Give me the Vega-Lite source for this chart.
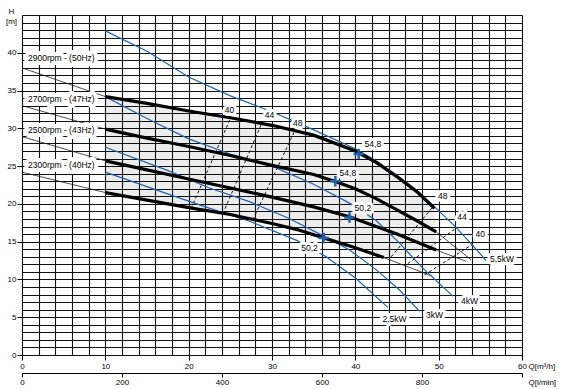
{
  "$schema": "https://vega.github.io/schema/vega-lite/v6.json",
  "width": 500,
  "height": 340,
  "autosize": {"type": "none"},
  "padding": {"left": 22, "top": 15, "right": 45, "bottom": 34},
  "background": "white",
  "config": {"view": {"stroke": null}, "font": "Liberation Sans"},
  "datasets": {
    "shade": [
      {"Q": 10, "H": 34.2, "bot": 21.5},
      {"Q": 15, "H": 33.3, "bot": 20.5},
      {"Q": 20, "H": 32.3, "bot": 19.5},
      {"Q": 25, "H": 31.4, "bot": 18.6},
      {"Q": 30, "H": 30.4, "bot": 17.4},
      {"Q": 35, "H": 29.1, "bot": 15.9},
      {"Q": 40, "H": 27.0, "bot": 14.2},
      {"Q": 43.4, "H": 24.9, "bot": 12.9},
      {"Q": 45, "H": 23.6, "bot": 13.2},
      {"Q": 47.5, "H": 21.5, "bot": 13.6},
      {"Q": 49.5, "H": 19.4, "bot": 13.9},
      {"Q": 49.7, "H": 16.3, "bot": 13.9}
    ],
    "thick": [
      {"id": "A", "Q": 10, "H": 34.2}, {"id": "A", "Q": 15, "H": 33.3}, {"id": "A", "Q": 20, "H": 32.3},
      {"id": "A", "Q": 25, "H": 31.4}, {"id": "A", "Q": 30, "H": 30.4}, {"id": "A", "Q": 35, "H": 29.1},
      {"id": "A", "Q": 40, "H": 27.0}, {"id": "A", "Q": 42.5, "H": 25.5}, {"id": "A", "Q": 45, "H": 23.6},
      {"id": "A", "Q": 47.5, "H": 21.5}, {"id": "A", "Q": 49.5, "H": 19.4},
      {"id": "B", "Q": 10, "H": 29.9}, {"id": "B", "Q": 15, "H": 28.7}, {"id": "B", "Q": 20, "H": 27.6},
      {"id": "B", "Q": 25, "H": 26.4}, {"id": "B", "Q": 30, "H": 25.1}, {"id": "B", "Q": 35, "H": 23.9},
      {"id": "B", "Q": 37.5, "H": 23.0}, {"id": "B", "Q": 40, "H": 22.0}, {"id": "B", "Q": 42.5, "H": 20.7},
      {"id": "B", "Q": 45, "H": 19.2}, {"id": "B", "Q": 47.5, "H": 17.7}, {"id": "B", "Q": 49.7, "H": 16.3},
      {"id": "C", "Q": 10, "H": 25.7}, {"id": "C", "Q": 15, "H": 24.5}, {"id": "C", "Q": 20, "H": 23.3},
      {"id": "C", "Q": 25, "H": 22.1}, {"id": "C", "Q": 30, "H": 20.9}, {"id": "C", "Q": 35, "H": 19.6},
      {"id": "C", "Q": 39.3, "H": 18.3}, {"id": "C", "Q": 42.5, "H": 17.0}, {"id": "C", "Q": 45, "H": 16.0},
      {"id": "C", "Q": 47.5, "H": 14.9}, {"id": "C", "Q": 49.7, "H": 13.9},
      {"id": "D", "Q": 10, "H": 21.5}, {"id": "D", "Q": 15, "H": 20.5}, {"id": "D", "Q": 20, "H": 19.5},
      {"id": "D", "Q": 25, "H": 18.6}, {"id": "D", "Q": 30, "H": 17.4}, {"id": "D", "Q": 33, "H": 16.6},
      {"id": "D", "Q": 36.2, "H": 15.5}, {"id": "D", "Q": 40, "H": 14.2}, {"id": "D", "Q": 43.4, "H": 12.9}
    ],
    "thin": [
      {"id": "A0", "Q": 0, "H": 38.0}, {"id": "A0", "Q": 10, "H": 34.2},
      {"id": "B0", "Q": 0, "H": 33.0}, {"id": "B0", "Q": 10, "H": 29.9},
      {"id": "C0", "Q": 0, "H": 28.9}, {"id": "C0", "Q": 10, "H": 25.7},
      {"id": "D0", "Q": 0, "H": 24.2}, {"id": "D0", "Q": 10, "H": 21.5},
      {"id": "B1", "Q": 49.7, "H": 16.3}, {"id": "B1", "Q": 53.9, "H": 12.6},
      {"id": "C1", "Q": 49.7, "H": 13.9}, {"id": "C1", "Q": 53.3, "H": 12.4},
      {"id": "D1", "Q": 43.4, "H": 12.9}, {"id": "D1", "Q": 49.3, "H": 10.4}
    ],
    "blue": [
      {"id": "P55", "Q": 10, "H": 42.9}, {"id": "P55", "Q": 15, "H": 40.2}, {"id": "P55", "Q": 20, "H": 36.8},
      {"id": "P55", "Q": 25, "H": 34.3}, {"id": "P55", "Q": 30, "H": 32.2}, {"id": "P55", "Q": 35, "H": 29.8},
      {"id": "P55", "Q": 40, "H": 27.3}, {"id": "P55", "Q": 42.5, "H": 25.7}, {"id": "P55", "Q": 45, "H": 23.8},
      {"id": "P55", "Q": 47.5, "H": 21.7}, {"id": "P55", "Q": 49.5, "H": 19.6}, {"id": "P55", "Q": 52, "H": 17.0},
      {"id": "P55", "Q": 54, "H": 14.6}, {"id": "P55", "Q": 55.7, "H": 12.5},
      {"id": "P4", "Q": 10, "H": 34.2}, {"id": "P4", "Q": 15, "H": 31.3}, {"id": "P4", "Q": 20, "H": 28.6},
      {"id": "P4", "Q": 25, "H": 26.6}, {"id": "P4", "Q": 30, "H": 25.0}, {"id": "P4", "Q": 35, "H": 22.6},
      {"id": "P4", "Q": 39.3, "H": 20.1}, {"id": "P4", "Q": 42.5, "H": 17.8}, {"id": "P4", "Q": 45.3, "H": 14.8},
      {"id": "P4", "Q": 48, "H": 11.6}, {"id": "P4", "Q": 51.7, "H": 7.8},
      {"id": "P3", "Q": 10, "H": 27.5}, {"id": "P3", "Q": 17.3, "H": 24.5}, {"id": "P3", "Q": 22.5, "H": 22.1},
      {"id": "P3", "Q": 27.3, "H": 20.3}, {"id": "P3", "Q": 32, "H": 18.1}, {"id": "P3", "Q": 36.1, "H": 15.8},
      {"id": "P3", "Q": 39.3, "H": 13.9}, {"id": "P3", "Q": 42.5, "H": 11.3}, {"id": "P3", "Q": 45.3, "H": 8.6},
      {"id": "P3", "Q": 47.7, "H": 5.8},
      {"id": "P25", "Q": 10, "H": 24.2}, {"id": "P25", "Q": 17.3, "H": 21.4}, {"id": "P25", "Q": 22, "H": 19.6},
      {"id": "P25", "Q": 27.3, "H": 17.7}, {"id": "P25", "Q": 32.9, "H": 15.2}, {"id": "P25", "Q": 36.5, "H": 13.0},
      {"id": "P25", "Q": 40, "H": 10.2}, {"id": "P25", "Q": 43.9, "H": 6.3}
    ],
    "dash": [
      {"id": "L40", "Q": 25.0, "H": 31.3}, {"id": "L40", "Q": 20.3, "H": 19.4},
      {"id": "L44", "Q": 28.7, "H": 30.5}, {"id": "L44", "Q": 24.1, "H": 18.7},
      {"id": "L48", "Q": 32.7, "H": 29.6}, {"id": "L48", "Q": 27.7, "H": 17.9},
      {"id": "R48", "Q": 49.3, "H": 19.6}, {"id": "R48", "Q": 44.3, "H": 13.0},
      {"id": "R44", "Q": 52.1, "H": 16.8}, {"id": "R44", "Q": 46.3, "H": 12.1},
      {"id": "R40", "Q": 54.0, "H": 14.6}, {"id": "R40", "Q": 48.3, "H": 10.6}
    ],
    "bep": [
      {"Q": 40.4, "H": 26.6}, {"Q": 37.6, "H": 23.0}, {"Q": 39.3, "H": 18.2}, {"Q": 36.2, "H": 15.5}
    ],
    "labels": [
      {"Q": 24.9, "H": 32.4, "t": "40"}, {"Q": 29.7, "H": 31.7, "t": "44"}, {"Q": 33.1, "H": 30.7, "t": "48"},
      {"Q": 50.5, "H": 21.0, "t": "48"}, {"Q": 52.8, "H": 18.3, "t": "44"}, {"Q": 55.0, "H": 16.0, "t": "40"},
      {"Q": 42.1, "H": 27.9, "t": "54,8"}, {"Q": 39.1, "H": 24.1, "t": "54,8"},
      {"Q": 40.9, "H": 19.5, "t": "50,2"}, {"Q": 34.5, "H": 14.1, "t": "50,2"},
      {"Q": 57.6, "H": 12.7, "t": "5,5kW"}, {"Q": 53.7, "H": 7.1, "t": "4kW"},
      {"Q": 49.5, "H": 5.3, "t": "3kW"}, {"Q": 44.7, "H": 4.8, "t": "2,5kW"}
    ],
    "speeds": [
      {"Q": 0.72, "H": 39.3, "t": "2900rpm - (50Hz)"},
      {"Q": 0.72, "H": 33.9, "t": "2700rpm - (47Hz)"},
      {"Q": 0.72, "H": 29.8, "t": "2500rpm - (43Hz)"},
      {"Q": 0.72, "H": 25.1, "t": "2300rpm - (40Hz)"}
    ]
  },
  "resolve": {"scale": {"x": "independent"}, "axis": {"x": "independent"}},
  "layer": [
    {
      "encoding": {
        "x": {
          "field": "Q", "type": "quantitative",
          "scale": {"domain": [0, 60], "nice": false, "zero": false},
          "axis": {
            "values": [0,2,4,6,8,10,12,14,16,18,20,22,24,26,28,30,32,34,36,38,40,42,44,46,48,50,52,54,56,58,60],
            "grid": true, "gridColor": "#111", "gridWidth": 1.1, "gridOpacity": 1,
            "domain": false,
            "tickSize": 5, "tickColor": "#000",
            "tickOpacity": {"condition": {"test": "datum.value % 10 === 0", "value": 1}, "value": 0},
            "labelExpr": "datum.value % 10 === 0 ? datum.label : ''",
            "labelFontSize": 8, "labelPadding": 2, "labelFlush": false, "labelOverlap": false, "labelBound": false, "labelColor": "#000",
            "title": "Q[m³/h]", "titleX": 506, "titleY": 11, "titleAlign": "left", "titleBaseline": "middle",
            "titleFontSize": 8, "titleFontWeight": "normal", "titleColor": "#000"
          }
        },
        "y": {
          "field": "H", "type": "quantitative",
          "scale": {"domain": [0, 45], "nice": false, "zero": false},
          "axis": {
            "values": [0,1,2,3,4,5,6,7,8,9,10,11,12,13,14,15,16,17,18,19,20,21,22,23,24,25,26,27,28,29,30,31,32,33,34,35,36,37,38,39,40,41,42,43,44,45],
            "grid": true, "gridColor": "#111", "gridWidth": 1.1, "gridOpacity": 1,
            "domain": false,
            "tickSize": 5, "tickColor": "#000",
            "tickOpacity": {"condition": {"test": "datum.value % 5 === 0 && datum.value <= 40", "value": 1}, "value": 0},
            "labelExpr": "datum.value % 5 === 0 && datum.value <= 40 ? datum.label : ''",
            "labelFontSize": 8, "labelPadding": 1, "labelOverlap": false, "labelBound": false, "labelColor": "#000",
            "title": ["H", "[m]"], "titleAngle": 0, "titleX": -11, "titleY": -8, "titleAlign": "center",
            "titleBaseline": "top", "titleLineHeight": 10, "titleFontSize": 8, "titleFontWeight": "normal", "titleColor": "#000"
          }
        }
      },
      "layer": [
        {
          "data": {"name": "shade"},
          "mark": {"type": "area", "fill": "#000", "fillOpacity": 0.075},
          "encoding": {"y2": {"field": "bot"}}
        },
        {
          "data": {"name": "thin"},
          "mark": {"type": "line", "color": "#222", "strokeWidth": 0.8},
          "encoding": {"detail": {"field": "id"}}
        },
        {
          "data": {"name": "dash"},
          "mark": {"type": "line", "color": "#111", "strokeWidth": 1, "strokeDash": [3, 2.5]},
          "encoding": {"detail": {"field": "id"}}
        },
        {
          "data": {"name": "blue"},
          "mark": {"type": "line", "color": "#1f63b0", "strokeWidth": 1.2},
          "encoding": {"detail": {"field": "id"}}
        },
        {
          "data": {"name": "thick"},
          "mark": {"type": "line", "color": "#000", "strokeWidth": 3.2},
          "encoding": {"detail": {"field": "id"}}
        },
        {
          "data": {"name": "bep"},
          "mark": {"type": "point", "shape": "M-1,0H1M0,-1V1", "filled": false, "stroke": "#1f63b0", "strokeWidth": 2.5, "size": 110, "opacity": 1}
        },
        {
          "data": {"name": "labels"},
          "mark": {"type": "text", "stroke": "white", "strokeWidth": 6, "strokeJoin": "round", "fill": "white", "fontSize": 8.5, "align": "center", "baseline": "middle"},
          "encoding": {"text": {"field": "t"}}
        },
        {
          "data": {"name": "labels"},
          "mark": {"type": "text", "fill": "#000", "fontSize": 8.5, "align": "center", "baseline": "middle"},
          "encoding": {"text": {"field": "t"}}
        },
        {
          "data": {"name": "speeds"},
          "mark": {"type": "text", "stroke": "white", "strokeWidth": 8, "strokeJoin": "round", "fill": "white", "fontSize": 8.5, "align": "left", "baseline": "middle"},
          "encoding": {"text": {"field": "t"}}
        },
        {
          "data": {"name": "speeds"},
          "mark": {"type": "text", "fill": "#000", "fontSize": 8.5, "align": "left", "baseline": "middle"},
          "encoding": {"text": {"field": "t"}}
        }
      ]
    },
    {
      "data": {"values": [{"L": 0}, {"L": 1000}]},
      "mark": {"type": "point", "opacity": 0},
      "encoding": {
        "x": {
          "field": "L", "type": "quantitative",
          "scale": {"domain": [0, 1000], "nice": false, "zero": false},
          "axis": {
            "orient": "bottom", "offset": 18,
            "values": [0, 200, 400, 600, 800, 1000],
            "grid": false, "domain": true, "domainColor": "#000", "domainWidth": 1,
            "tickColor": "#000", "tickSize": 4,
            "labelExpr": "datum.value === 1000 ? '' : datum.label",
            "labelFontSize": 8, "labelPadding": 1, "labelFlush": false, "labelOverlap": false, "labelBound": false, "labelColor": "#000",
            "title": "Q[l/min]", "titleX": 506, "titleY": 9, "titleAlign": "left", "titleBaseline": "middle",
            "titleFontSize": 8, "titleFontWeight": "normal", "titleColor": "#000"
          }
        }
      }
    }
  ]
}
